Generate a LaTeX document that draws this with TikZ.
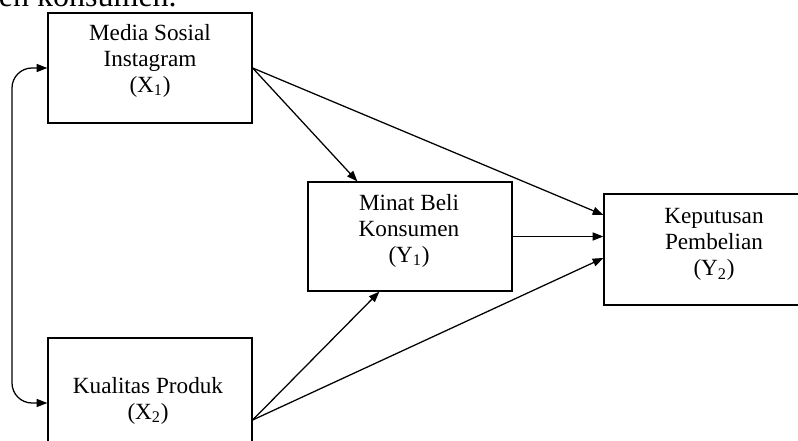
\documentclass[tikz,border=0pt]{standalone}
\usepackage{fontspec}
\setmainfont{Liberation Serif}
\usetikzlibrary{arrows.meta,calc}
\begin{document}
\begin{tikzpicture}[x=0.75pt,y=-0.75pt,
  box/.style={draw=black, line width=0.95pt, inner sep=0pt, minimum width=153pt},
  lbl/.style={align=center, font=\fontsize{17.4}{19.5}\selectfont, inner sep=0pt},
  tip/.style={Triangle[length=8pt,width=6pt]},
  arr/.style={draw=black, line width=0.95pt, -{Triangle[length=8pt,width=6pt]}},
]
\useasboundingbox (0,0) rectangle (798,441);
\clip (0,0) rectangle (798,441);

% clipped text line above the figure
\node[font=\fontsize{24}{28}\selectfont, anchor=base east, inner sep=0pt] (toptext) at (177,7) {en konsumen.};

% boxes
\node[box, minimum height=82.5pt] (x1) at (150,68) {};
\node[box, minimum height=91.5pt] (x2) at (150,399) {};
\node[box, minimum height=81.75pt] (y1) at (410,236.5) {};
\node[box, minimum width=165pt, minimum height=83.25pt] (y2) at (714,249.5) {};

% labels
\node[lbl] (x1t) at (150,60.5) {Media Sosial\\Instagram\\(X\textsubscript{1})};
\node[lbl] (x2t) at (148,400.5) {Kualitas Produk\\(X\textsubscript{2})};
\node[lbl] (y1t) at (409,230.5) {Minat Beli\\Konsumen\\(Y\textsubscript{1})};
\node[lbl] (y2t) at (714,244.5) {Keputusan\\Pembelian\\(Y\textsubscript{2})};

% connectors
\coordinate (x2o) at ($(x2.east)+(0,21)$);
\draw[arr] (x1.east) -- ($(y1.north west)+(50,0)$);
\draw[arr] (x1.east) -- ($(y2.west)+(0,-34.5)$);
\draw[arr] (y1.east) -- (y1.east -| y2.west);
\draw[arr] (x2o) -- ($(y1.south west)+(72,0)$);
\draw[arr] (x2o) -- ($(y2.west)+(0,8.5)$);

\coordinate (c1) at (12,68);
\coordinate (c2) at (12,403);
\draw[draw=black, line width=0.95pt, {Triangle[length=8pt,width=6pt]}-{Triangle[length=8pt,width=6pt]}, rounded corners=15pt]
  (x1.west) -- (c1) -- (c2) -- ($(x2.west)+(0,4)$);
\end{tikzpicture}
\end{document}
